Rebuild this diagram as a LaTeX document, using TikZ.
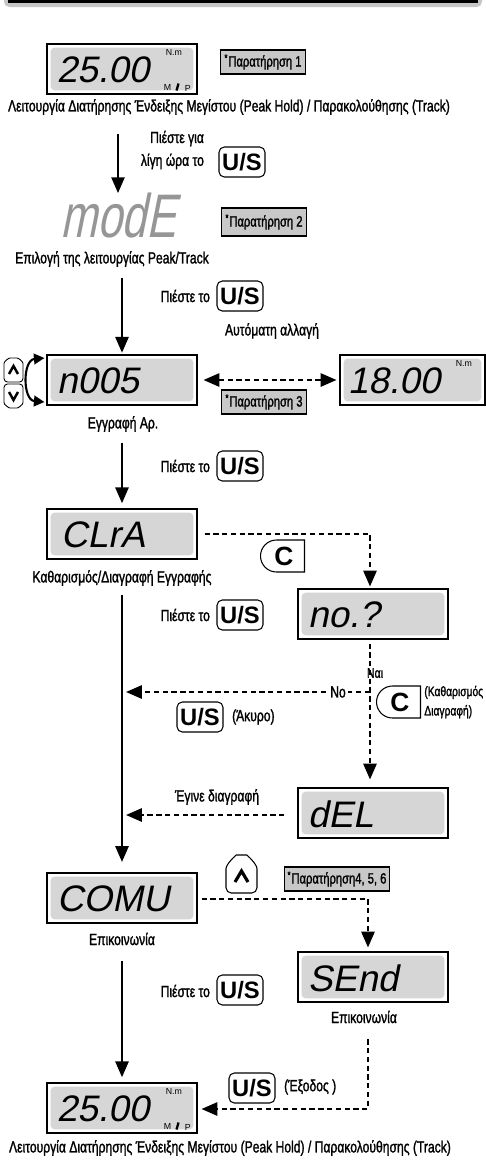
\documentclass[tikz,border=0pt]{standalone}
\usepackage{fontspec}
\setmainfont{Liberation Sans}[FakeStretch=0.75,FakeBold=1.4]
\newfontfamily\keyfont{Liberation Sans}
\newfontfamily\segfont{Liberation Sans}[FakeSlant=0.2]
\newfontfamily\segnarrow{Liberation Sans}[FakeSlant=0.2,FakeStretch=0.72]
\usetikzlibrary{arrows.meta,calc,positioning,shapes.misc}

\definecolor{lcdgray}{RGB}{214,214,214}
\definecolor{notegray}{RGB}{200,200,200}
\definecolor{modegray}{RGB}{150,150,150}

\tikzset{
  lcd/.style={draw, line width=0.6pt, fill=white, minimum width=3cm, minimum height=1cm, inner sep=0pt,
    path picture={\fill[lcdgray, rounded corners=2.5pt]
      ([shift={(2pt,-2pt)}]path picture bounding box.north west) rectangle
      ([shift={(-2pt,2pt)}]path picture bounding box.south east);}},
  seg/.style={inner sep=0pt, anchor=west, font=\segfont\fontsize{21}{21}\selectfont},
  note/.style={draw, line width=0.6pt, fill=notegray, inner xsep=2pt, inner ysep=0pt,
    minimum height=0.48cm, font=\fontsize{8.5}{9}\selectfont},
  lbl/.style={inner sep=1pt, font=\fontsize{9.2}{13}\selectfont},
  key/.style={draw, line width=0.6pt, rounded corners=3pt, fill=white, minimum width=0.92cm,
    minimum height=0.6cm, inner sep=0pt, font=\keyfont\bfseries\fontsize{13.5}{14}\selectfont},
  ckey/.style={rounded rectangle, rounded rectangle right arc=none, draw, line width=0.6pt,
    fill=white, minimum width=0.88cm, minimum height=0.64cm, inner sep=0pt,
    font=\keyfont\bfseries\fontsize{15}{15}\selectfont},
  unit/.style={inner sep=0pt, font=\keyfont\fontsize{5}{5}\selectfont},
  flow/.style={line width=1.2pt, ->, >={Triangle[width=7.5pt,length=9pt]}},
  dflow/.style={flow, dash pattern=on 3pt off 2pt},
}

\begin{document}
\begin{tikzpicture}[x=0.02cm, y=-0.02cm]
\useasboundingbox (0,0) rectangle (486,1164);
\fill[gray!45, rounded corners=3pt] (4,-8) rectangle (482,7);
\fill (8,-8) rectangle (478,3);

% Peak hold / track
\node[lcd] (lcdA) at (122,69) {};
\node[seg] (txtA) at ($(lcdA.west)+(10,1)$) {25.00};
\node[unit, anchor=north west] at ($(lcdA.north east)+(-32,6)$) {N.m};
\node[unit, anchor=south west] at ($(lcdA.south east)+(-34,-4)$) {M};
\draw[line width=1.3pt] ($(lcdA.south east)+(-21,-4)$) -- ($(lcdA.south east)+(-19,-11)$);
\node[unit, anchor=south west] at ($(lcdA.south east)+(-13,-3)$) {P};
\node[note] (noteA) at (263,62) {\textsuperscript{*}Παρατήρηση 1};
\node[lbl] (lblA) at (229,107) {Λειτουργία Διατήρησης Ένδειξης Μεγίστου (Peak Hold) / Παρακολούθησης (Track)};

% mode
\node[lbl, align=right, anchor=east] (pressA) at (206,150) {Πιέστε για\\λίγη ώρα το};
\node[key] (keyA) at (242,162) {U/S};
\node[inner sep=0pt, text=modegray, font=\segnarrow\fontsize{35}{35}\selectfont] (modeD) at (118,216) {modE};
\node[note, minimum height=0.56cm] (noteB) at (264,222) {\textsuperscript{*}Παρατήρηση 2};
\node[lbl] (lblB) at (112,259) {Επιλογή της λειτουργίας Peak/Track};
\draw[flow, shorten <=10pt] (lblA.south -| modeD.north) -- (modeD.north);

% record number
\node[lbl, anchor=east] (pressB) at (212,296) {Πιέστε το};
\node[key] (keyB) at (240,296) {U/S};
\node[lcd] (lcdC) at (122,380) {};
\node[seg] (txtC) at ($(lcdC.west)+(10,1)$) {n005};
\draw[flow, shorten <=5pt, shorten >=1pt] (lblB.south -| lcdC.north) -- (lcdC.north);
\draw[line width=0.5pt, rounded corners=2pt] (4,382) -- (4,367) .. controls (4,361) and (9,358) .. (13.5,358)
  .. controls (18,358) and (23,361) .. (23,367) -- (23,382) -- cycle;
\draw[line width=1.4pt] (9,374) -- (13.5,366) -- (18,374);
\draw[line width=0.5pt, rounded corners=2pt] (4,384) -- (4,399) .. controls (4,405) and (9,408) .. (13.5,408)
  .. controls (18,408) and (23,405) .. (23,399) -- (23,384) -- cycle;
\draw[line width=1.4pt] (9,392) -- (13.5,400) -- (18,392);
\draw[line width=1.2pt, <->, >={Triangle[width=6pt,length=6pt]}] ($(lcdC.west)+(-2,-22)$)
  .. controls +(-22,2) and +(-22,-2) .. ($(lcdC.west)+(-2,22)$);
\node[lbl] (autoL) at (272,331) {Αυτόματη αλλαγή};
\node[lcd, minimum width=2.9cm] (lcdD) at (412.5,380) {};
\node[seg] (txtD) at ($(lcdD.west)+(8,1)$) {18.00};
\node[unit, anchor=north west] at ($(lcdD.north east)+(-30,6)$) {N.m};
\draw[dflow, <->] ($(lcdC.east)+(6,0)$) -- ($(lcdD.west)+(-3,0)$);
\node[note] (noteC) at (264,402) {\textsuperscript{*}Παρατήρηση 3};
\node[lbl] (lblC) at (123,424) {Εγγραφή Αρ.};

% clear record
\node[lbl, anchor=east] (pressC) at (212,466) {Πιέστε το};
\node[key] (keyC) at (240,466) {U/S};
\node[lcd] (lcdE) at (122,534) {};
\node[seg] (txtE) at ($(lcdE.west)+(14,1)$) {CLrA};
\draw[flow, shorten <=5pt, shorten >=3pt] (lblC.south -| lcdE.north) -- (lcdE.north);
\node[lbl] (lblE) at (122,578) {Καθαρισμός/Διαγραφή Εγγραφής};
\node[ckey] (keyCA) at (284,556) {C};
\node[lcd] (lcdF) at (373,614) {};
\node[seg] (txtF) at ($(lcdF.west)+(10,1)$) {no.?};
\draw[dflow] ($(lcdE.east)+(7,0)$) -| ($(lcdF.north)+(-3,-2)$);
\node[lbl, anchor=east] (pressD) at (212,615) {Πιέστε το};
\node[key] (keyD) at (240,615) {U/S};
\node[lcd] (lcdG) at (373,813) {};
\node[seg] (txtG) at ($(lcdG.west)+(10,1)$) {dEL};
\coordinate (fork) at (370,692);
\draw[dflow] ($(lcdF.south)+(-3,4)$) -- ($(lcdG.north)+(-3,-8)$);
\draw[dflow] (fork) -- ($(fork -| lcdE.south)+(4,0)$);
\node[lbl, fill=white, inner xsep=1.5pt] (noL) at (338,692) {No};
\node[lbl, font=\fontsize{8}{8}\selectfont] (yesL) at (375,673) {Ναι};
\node[ckey] (keyCB) at (400,702) {C};
\node[lbl, anchor=west, align=left, inner sep=0pt, font=\fontsize{7.8}{11}\selectfont] (clrL) at (424,702) {(Καθαρισμός\\Διαγραφή)};
\node[key] (keyE) at (200,717) {U/S};
\node[lbl, anchor=west] (akyro) at (230,717) {(Άκυρο)};
\node[lbl] (delL) at (217,797) {Έγινε διαγραφή};
\draw[dflow] ($(lcdG.west)+(-13,2)$) -- ($(lcdG.west -| lcdE.south)+(4,2)$);

% communication
\node[lcd] (lcdH) at (122,898) {};
\node[seg] (txtH) at ($(lcdH.west)+(10,1)$) {COMU};
\draw[flow, shorten <=4pt, shorten >=6pt] (lblE.south -| lcdH.north) -- (lcdH.north);
\draw[line width=0.6pt, rounded corners=3pt] (226,893) -- (226,874) .. controls (226,864) and (236,855) .. (241.5,855)
  .. controls (247,855) and (257,864) .. (257,874) -- (257,893) -- cycle;
\draw[line width=1.8pt] (235,882) -- (241.5,871) -- (248,882);
\node[note] (noteD) at (337,879) {\textsuperscript{*}Παρατήρηση4, 5, 6};
\node[lbl] (lblH) at (122,939) {Επικοινωνία};
\node[lcd] (lcdI) at (373,977) {};
\node[seg] (txtI) at ($(lcdI.west)+(10,1)$) {SEnd};
\draw[dflow] ($(lcdH.east)+(4,1)$) -| ($(lcdI.north)+(-5,-4)$);
\node[lbl] (lblI) at (364,1017) {Επικοινωνία};
\node[lbl, anchor=east] (pressE) at (212,991) {Πιέστε το};
\node[key] (keyF) at (240,990) {U/S};

% back to peak hold / track
\node[lcd] (lcdJ) at (122,1108) {};
\node[seg] (txtJ) at ($(lcdJ.west)+(10,1)$) {25.00};
\node[unit, anchor=north west] at ($(lcdJ.north east)+(-32,6)$) {N.m};
\node[unit, anchor=south west] at ($(lcdJ.south east)+(-34,-4)$) {M};
\draw[line width=1.3pt] ($(lcdJ.south east)+(-21,-4)$) -- ($(lcdJ.south east)+(-19,-11)$);
\node[unit, anchor=south west] at ($(lcdJ.south east)+(-13,-3)$) {P};
\draw[flow, shorten <=8pt, shorten >=3pt] (lblH.south -| lcdJ.north) -- (lcdJ.north);
\draw[dflow] ($(lblI.south -| lcdI.south)+(-5,14)$) |- ($(lcdJ.east)+(4,1)$);
\node[key] (keyG) at (252,1088) {U/S};
\node[lbl, anchor=west] (exodos) at (282,1087) {(Έξοδος )};
\node[lbl] (lblJ) at (230,1148) {Λειτουργία Διατήρησης Ένδειξης Μεγίστου (Peak Hold) / Παρακολούθησης (Track)};
\end{tikzpicture}
\end{document}
